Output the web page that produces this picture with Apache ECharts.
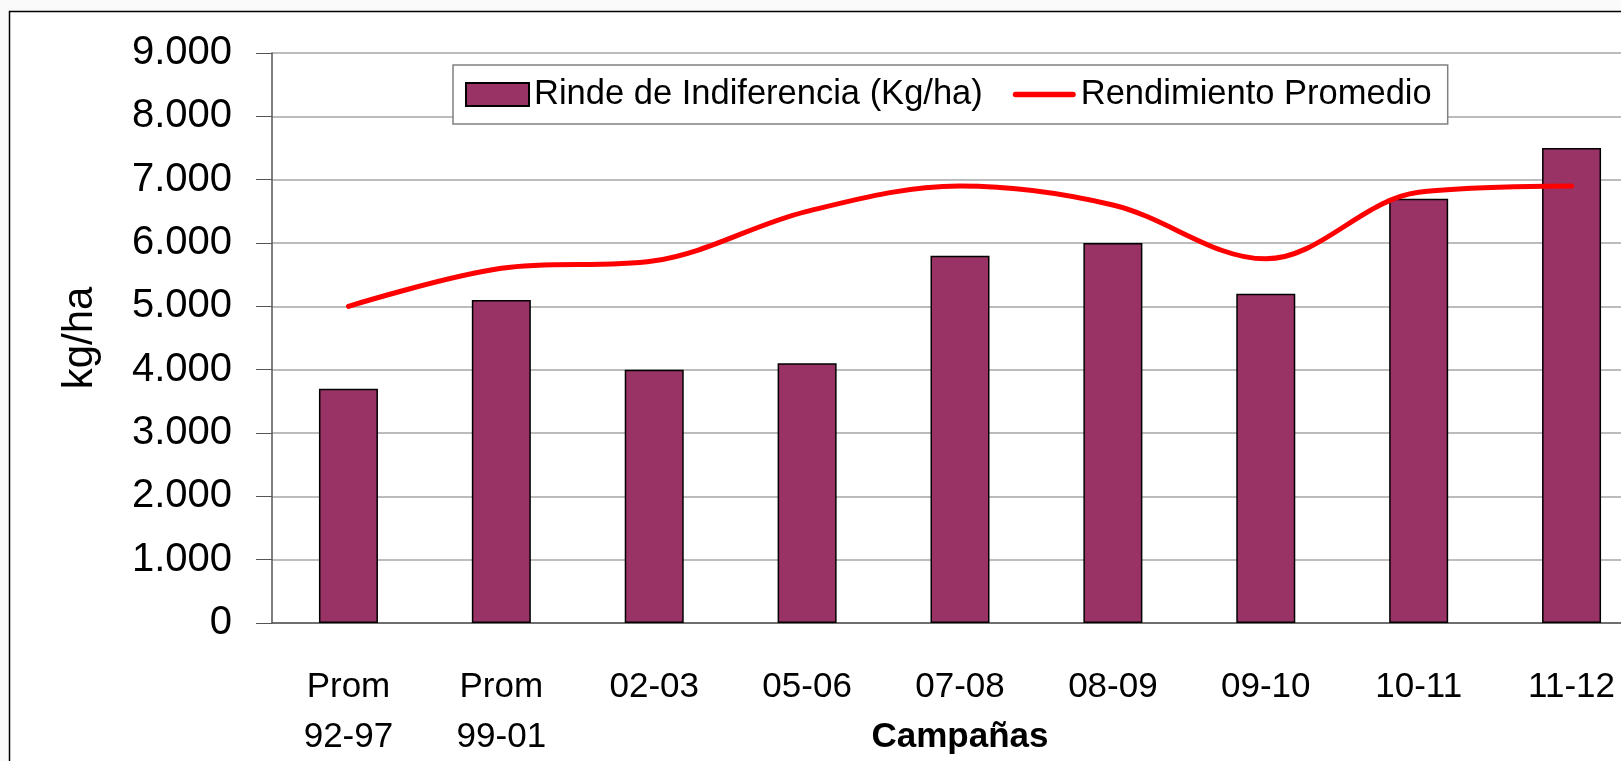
<!DOCTYPE html>
<html>
<head>
<meta charset="utf-8">
<style>
  html, body { margin: 0; padding: 0; background: #fafafa; }
  #chart { width: 1621px; height: 761px; }
</style>
<script src="https://cdn.jsdelivr.net/npm/echarts@6/dist/echarts.min.js"></script>
</head>
<body>
<div id="chart"></div>
<script>
const categories = ['Prom\n92-97', 'Prom\n99-01', '02-03', '05-06', '07-08', '08-09', '09-10', '10-11', '11-12']
const rindeIndiferencia = [3700, 5100, 4000, 4100, 5800, 6000, 5200, 6700, 7500]
const rendimientoPromedio = [5000, 5600, 5720, 6500, 6900, 6600, 5750, 6800, 6900]

const font = 'Liberation Sans, Arial, sans-serif'

const chart = echarts.init(document.getElementById('chart'))

chart.setOption({
  backgroundColor: '#fafafa',
  animation: false,
  textStyle: { fontFamily: font, color: '#000' },
  // marco exterior del gráfico
  graphic: [{
    type: 'rect',
    shape: { x: 9.5, y: 11.5, width: 1700, height: 800 },
    style: { fill: '#fff', stroke: '#000', lineWidth: 1.5 },
    silent: true,
    z: -10
  }],
  grid: { left: 272, top: 53, bottom: 138, right: -27, outerBoundsMode: 'none', containLabel: false },
  legend: {
    left: 453,
    top: 65,
    padding: [12, 16, 12, 12],
    itemGap: 30,
    itemWidth: 63,
    itemHeight: 23,
    backgroundColor: '#fff',
    borderColor: '#808080',
    borderWidth: 1.5,
    textStyle: { fontSize: 34.5, fontFamily: font, color: '#000' },
    data: [
      { name: 'Rinde de Indiferencia (Kg/ha)', icon: 'rect' },
      {
        name: 'Rendimiento Promedio',
        icon: 'path://M3,0 H66 A3,3 0 0 1 66,6 H3 A3,3 0 0 1 3,0 Z',
        itemStyle: { color: '#ff0000', borderWidth: 0 }
      }
    ]
  },
  xAxis: {
    type: 'category',
    data: categories,
    name: 'Campañas',
    nameLocation: 'middle',
    nameGap: 97,
    nameMoveOverlap: false,
    nameTextStyle: { fontSize: 35, fontWeight: 'bold', fontFamily: font, color: '#000' },
    axisLine: { lineStyle: { color: '#555', width: 1.5 } },
    axisTick: { length: 12, lineStyle: { color: '#555' } },
    axisLabel: { fontSize: 35, lineHeight: 50, margin: 39, color: '#000', fontFamily: font, interval: 0 }
  },
  yAxis: {
    type: 'value',
    min: 0,
    max: 9000,
    interval: 1000,
    name: 'kg/ha',
    nameLocation: 'middle',
    nameGap: 171,
    nameMoveOverlap: false,
    nameTextStyle: { fontSize: 42, fontFamily: font, color: '#000' },
    axisLine: { show: true, lineStyle: { color: '#555', width: 1.5 } },
    axisTick: { show: true, length: 16, lineStyle: { color: '#555' } },
    axisLabel: {
      fontSize: 40,
      margin: 40,
      color: '#000',
      fontFamily: font,
      formatter: v => v === 0 ? '0' : (v / 1000) + '.000'
    },
    splitLine: { lineStyle: { color: '#a6a6a6', width: 1.5 } }
  },
  series: [
    {
      name: 'Rinde de Indiferencia (Kg/ha)',
      type: 'bar',
      data: rindeIndiferencia,
      barWidth: 59,
      itemStyle: { color: '#993366', borderColor: '#000', borderWidth: 1.5 }
    },
    {
      name: 'Rendimiento Promedio',
      type: 'line',
      data: rendimientoPromedio,
      smooth: 0.35,
      symbol: 'none',
      itemStyle: { color: '#ff0000' },
      lineStyle: { color: '#ff0000', width: 5, cap: 'round' },
      z: 5
    }
  ]
})
</script>
</body>
</html>
